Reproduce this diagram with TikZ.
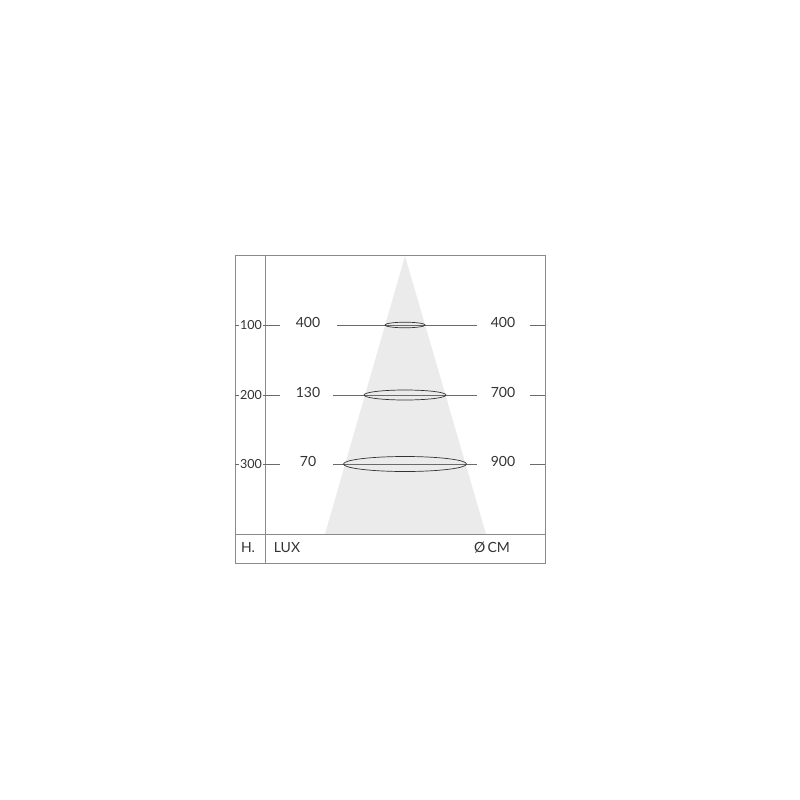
\documentclass[tikz,border=0pt]{standalone}
\usepackage{fontspec}
\setmainfont{Lato}
\definecolor{txt}{HTML}{333333}
\definecolor{frame}{HTML}{8A8A8A}
\definecolor{rule}{HTML}{6A6A6A}
\definecolor{beam}{HTML}{EBEBEB}
\begin{document}
\begin{tikzpicture}[x=1pt,y=-1pt,
  lbl/.style={text=txt,font=\fontsize{14}{14}\selectfont,inner sep=1pt},
  axl/.style={text=txt,font=\fontsize{12.5}{12.5}\selectfont,inner sep=1pt,fill=white},
  framel/.style={draw=frame,line width=1pt},
  rulel/.style={draw=rule,line width=0.8pt},
  ell/.style={draw=txt,line width=0.7pt}]
\useasboundingbox (0,0) rectangle (800,800);
% beam
\coordinate (apex) at (405,256);
\coordinate (bl) at (325,534);
\coordinate (br) at (486,534);
\fill[beam] (apex) -- (bl) -- (br) -- cycle;
% frame
\draw[framel] (235,255) rectangle (545,563);
\draw[framel] (265,255) -- (265,563);
\draw[framel] (235,534) -- (545,534);
% rows
\foreach \y/\h/\lux/\dia/\rx/\ry/\ml in {325/100/400/400/20/2.8/337, 395/200/130/700/41/5/333, 464/300/70/900/61.5/7.5/333}{
  \coordinate (la\h) at (235,\y);
  \coordinate (lb\h) at (280,\y);
  \coordinate (ma\h) at (\ml,\y);
  \coordinate (mb\h) at (477,\y);
  \coordinate (ra\h) at (530,\y);
  \coordinate (rb\h) at (545,\y);
  \draw[rulel] (ma\h) -- (mb\h);
  \draw[rulel] (ra\h) -- (rb\h);
  \draw[rulel] (la\h) -- (lb\h);
  \node[axl] (h\h) at (251,\y) {\h};
  \draw[ell] (405,\y) ellipse [x radius=\rx, y radius=\ry];
  \node[lbl] (lux\h) at (308,\y-3) {\lux};
  \node[lbl] (dia\h) at (503,\y-3) {\dia};
}
% footer
\node[lbl] (H) at (248,548) {H.};
\node[lbl] (LUX) at (287,548) {LUX};
\node[lbl] (CM) at (492,548) {Ø\,CM};
\end{tikzpicture}
\end{document}
